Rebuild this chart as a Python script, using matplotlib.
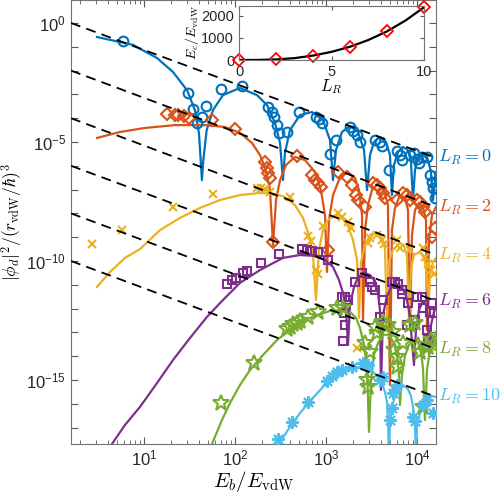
import numpy as np
import matplotlib
matplotlib.use("Agg")
import matplotlib.pyplot as plt
import matplotlib.transforms as mtransforms

plt.rcParams['font.family'] = ['Liberation Sans', 'DejaVu Sans']
plt.rcParams['mathtext.fontset'] = 'cm'

# values as log10(E_b/E_vdW) and log10(|phi_d|^2 ...)
# L_R = 0
l0_curve_x = [0.484, 0.879, 1.143, 1.319, 1.473, 1.560, 1.604, 1.637, 1.652, 1.689, 1.758, 1.868, 2.055,
              2.242, 2.352, 2.440, 2.495, 2.527, 2.549, 2.604, 2.714, 2.846, 2.967, 3.044, 3.077, 3.110,
              3.176, 3.264, 3.352, 3.418, 3.451, 3.484, 3.527, 3.593, 3.659, 3.703, 3.725, 3.747, 3.791,
              3.846, 3.901, 3.934, 3.956, 3.978, 4.011, 4.066, 4.121, 4.154, 4.176, 4.198, 4.209]
l0_curve_y = [-0.59, -0.92, -1.47, -2.06, -2.82, -3.66, -4.62, -6.60, -5.76, -4.50, -3.66, -3.03, -2.73,
              -3.03, -3.45, -4.20, -5.04, -6.60, -5.46, -4.50, -3.87, -3.74, -4.08, -4.92, -6.60, -5.34,
              -4.58, -4.33, -4.58, -5.34, -7.02, -5.55, -5.00, -4.79, -5.00, -5.55, -7.23, -5.97, -5.42,
              -5.21, -5.34, -5.84, -7.44, -6.18, -5.67, -5.50, -5.76, -6.26, -7.44, -6.60, -6.26]
l0_pts_x = [0.769, 1.484, 1.538, 1.582, 1.637, 1.681, 1.846, 2.077, 2.363, 2.407, 2.429, 2.462, 2.484,
            2.571, 2.703, 2.890, 2.923, 2.956, 3.044, 3.110, 3.264, 3.297, 3.341, 3.374, 3.538, 3.593,
            3.615, 3.692, 3.780, 3.813, 3.835, 3.923, 3.967, 4.000, 4.022, 4.055, 4.110, 4.143, 4.165,
            4.176, 4.198]
l0_pts_y = [-0.76, -2.94, -3.61, -4.20, -3.95, -3.49, -2.77, -2.65, -3.53, -3.74, -3.95, -4.29, -4.62,
            -4.58, -3.74, -3.95, -4.03, -4.20, -5.50, -4.92, -4.37, -4.54, -4.71, -5.00, -4.92, -5.00,
            -5.17, -6.18, -5.38, -5.55, -5.76, -5.55, -5.46, -5.71, -5.88, -5.63, -5.63, -6.39, -6.68,
            -6.93, -7.35]

# L_R = 2
l2_curve_x = [0.484, 0.736, 1.011, 1.341, 1.670, 1.890, 2.055, 2.187, 2.275, 2.341, 2.385, 2.418, 2.451,
              2.495, 2.560, 2.659, 2.769, 2.879, 2.945, 2.989, 3.011, 3.033, 3.077, 3.143, 3.231, 3.319,
              3.363, 3.396, 3.407, 3.429, 3.462, 3.505, 3.571, 3.637, 3.681, 3.703, 3.725, 3.758, 3.813,
              3.868, 3.901, 3.923, 3.945, 3.978, 4.022, 4.066, 4.099, 4.110, 4.132, 4.165, 4.209]
l2_curve_y = [-4.83, -4.58, -4.41, -4.29, -4.29, -4.37, -4.62, -5.04, -5.55, -6.18, -7.02, -9.33, -7.44,
              -6.60, -5.97, -5.63, -5.76, -6.26, -7.02, -8.07, -10.46, -8.28, -7.23, -6.60, -6.26, -6.51,
              -7.02, -8.07, -12.48, -8.70, -7.65, -7.02, -6.76, -7.02, -7.65, -15.21, -8.70, -7.77, -7.23,
              -7.35, -7.86, -12.90, -8.91, -7.86, -7.56, -7.73, -8.28, -12.90, -9.12, -8.07, -7.73]
l2_pts_x = [1.253, 1.341, 1.374, 1.440, 1.495, 1.747, 2.000, 2.330, 2.352, 2.363, 2.385, 2.418, 2.681,
            2.846, 2.879, 2.912, 2.945, 3.022, 3.132, 3.231, 3.286, 3.330, 3.352, 3.429, 3.516, 3.560,
            3.593, 3.626, 3.648, 3.780, 3.846, 3.890, 3.923, 4.000, 4.033, 4.066, 4.088, 4.165, 4.198]
l2_pts_y = [-3.82, -3.87, -3.87, -3.91, -3.99, -4.08, -4.45, -5.84, -6.09, -6.30, -6.51, -9.20, -5.59,
            -6.39, -6.60, -6.72, -6.89, -9.54, -6.26, -6.47, -6.81, -7.23, -7.44, -7.73, -6.72, -6.81,
            -6.93, -7.14, -7.35, -7.44, -7.14, -7.23, -7.44, -7.44, -7.52, -7.73, -7.94, -8.99, -8.61]

# L_R = 4
l4_curve_x = [0.484, 0.626, 0.791, 0.956, 1.176, 1.396, 1.615, 1.835, 2.055, 2.275, 2.440, 2.549, 2.659,
              2.747, 2.813, 2.857, 2.890, 2.923, 2.967, 3.022, 3.099, 3.176, 3.242, 3.297, 3.341, 3.363,
              3.385, 3.429, 3.484, 3.549, 3.604, 3.648, 3.670, 3.692, 3.736, 3.813, 3.857, 3.890, 3.912,
              3.934, 3.967, 4.033, 4.077, 4.110, 4.121, 4.143, 4.176, 4.209]
l4_curve_y = [-11.09, -10.46, -9.87, -9.50, -8.70, -8.19, -7.77, -7.44, -7.23, -7.14, -7.18, -7.31, -7.65,
              -8.19, -8.91, -9.75, -11.64, -9.54, -8.70, -8.28, -8.07, -8.19, -8.53, -9.12, -9.96, -12.39,
              -10.04, -9.33, -8.91, -8.78, -8.95, -9.45, -12.48, -10.04, -9.54, -9.24, -9.37, -9.79, -12.48,
              -10.29, -9.75, -9.62, -9.87, -10.46, -12.48, -10.59, -10.04, -9.87]
l4_pts_x = [0.429, 0.758, 1.319, 1.758, 2.242, 2.286, 2.330, 2.385, 2.604, 2.802, 2.835, 2.868, 2.890,
            2.912, 2.967, 3.132, 3.176, 3.242, 3.275, 3.341, 3.462, 3.484, 3.560, 3.615, 3.637, 3.780,
            3.813, 3.923, 4.066, 4.088, 4.121, 4.154, 4.187]
l4_pts_y = [-9.29, -8.70, -7.73, -7.18, -6.93, -6.93, -6.97, -7.10, -7.31, -8.95, -9.16, -9.62, -10.38,
            -10.55, -8.53, -7.98, -8.15, -8.36, -8.61, -13.66, -9.24, -9.03, -8.91, -9.12, -9.29, -9.12,
            -9.45, -9.54, -9.45, -9.83, -10.13, -10.38, -10.55]

# L_R = 6
l6_curve_x = [0.571, 0.648, 0.791, 0.956, 1.143, 1.319, 1.505, 1.692, 1.868, 2.055, 2.275, 2.527, 2.714,
              2.879, 2.989, 3.077, 3.143, 3.187, 3.220, 3.242, 3.264, 3.308, 3.352, 3.418, 3.484, 3.538,
              3.571, 3.593, 3.604, 3.626, 3.670, 3.714, 3.780, 3.835, 3.879, 3.912, 3.934, 3.967, 3.989,
              4.022, 4.066, 4.099, 4.121, 4.132, 4.154, 4.187, 4.209]
l6_curve_y = [-18.36, -17.69, -16.89, -16.13, -15.13, -14.16, -13.24, -12.35, -11.64, -10.92, -10.38, -9.87,
              -9.75, -9.79, -9.96, -10.25, -10.80, -11.34, -12.06, -13.53, -11.85, -11.09, -10.67, -10.50,
              -10.59, -10.84, -11.30, -12.06, -15.42, -12.27, -11.47, -11.13, -10.97, -11.09, -11.47, -12.06,
              -12.90, -14.37, -12.90, -12.06, -11.68, -11.85, -12.39, -13.95, -12.69, -12.14, -11.93]
l6_pts_x = [1.912, 1.967, 2.011, 2.088, 2.132, 2.286, 2.484, 2.736, 2.791, 2.846, 2.912, 3.022, 3.176,
            3.209, 3.242, 3.198, 3.209, 3.187, 3.319, 3.396, 3.484, 3.505, 3.538, 3.593, 3.626, 3.725,
            3.758, 3.791, 3.835, 3.835, 3.901, 3.890, 3.978, 4.000, 4.055, 4.066, 4.110, 4.121, 4.143,
            4.165, 4.187]
l6_pts_y = [-10.97, -10.80, -10.71, -10.50, -10.42, -10.08, -9.71, -9.50, -9.54, -9.58, -9.62, -9.96, -11.51,
            -11.51, -11.64, -12.18, -12.69, -13.36, -10.88, -10.50, -10.88, -11.09, -11.22, -12.35, -11.64,
            -10.88, -10.88, -10.97, -11.22, -11.39, -11.76, -12.69, -12.48, -11.51, -11.51, -11.97, -12.90,
            -13.32, -12.14, -11.76, -12.18]

# L_R = 8
l8_curve_x = [1.670, 1.747, 1.857, 1.945, 2.055, 2.165, 2.308, 2.462, 2.604, 2.747, 2.901, 3.044, 3.176,
              3.264, 3.330, 3.374, 3.418, 3.451, 3.473, 3.495, 3.527, 3.571, 3.626, 3.692, 3.747, 3.780,
              3.802, 3.813, 3.835, 3.868, 3.912, 3.967, 4.011, 4.044, 4.066, 4.088, 4.110, 4.143, 4.176,
              4.209]
l8_curve_y = [-18.36, -17.69, -16.68, -15.97, -15.21, -14.58, -13.95, -13.32, -12.90, -12.52, -12.27, -12.10,
              -12.06, -12.14, -12.39, -12.82, -13.53, -14.50, -17.18, -15.00, -13.95, -13.45, -13.10, -13.10,
              -13.45, -13.99, -14.79, -16.05, -14.79, -13.99, -13.53, -13.32, -13.40, -13.82, -14.50, -16.68,
              -14.58, -13.74, -13.24, -12.98]
l8_pts_x = [1.846, 2.209, 2.571, 2.604, 2.637, 2.681, 2.714, 2.802, 2.912, 3.121, 3.187, 3.429, 3.484,
            3.451, 3.462, 3.538, 3.560, 3.626, 3.681, 3.736, 3.747, 3.780, 3.780, 3.846, 3.923, 3.978,
            4.011, 4.033, 4.066, 4.121, 4.154, 4.176]
l8_pts_y = [-15.97, -14.29, -12.86, -12.77, -12.65, -12.61, -12.52, -12.35, -12.14, -11.97, -11.97, -13.45,
            -13.82, -15.00, -15.29, -12.77, -13.03, -12.56, -12.69, -12.98, -13.74, -14.03, -14.45, -13.45,
            -12.69, -12.61, -13.53, -13.82, -16.13, -13.61, -13.32, -13.53]

# L_R = 10
l10_curve_x = [2.451, 2.495, 2.604, 2.714, 2.846, 2.967, 3.077, 3.187, 3.286, 3.374, 3.451, 3.516, 3.571,
               3.615, 3.648, 3.670, 3.681, 3.692, 3.703, 3.714, 3.736, 3.769, 3.813, 3.857, 3.901, 3.934,
               3.956, 3.978, 3.989, 4.000, 4.033, 4.066, 4.110, 4.154, 4.209]
l10_curve_y = [-18.36, -17.61, -16.97, -16.39, -15.80, -15.29, -14.96, -14.71, -14.54, -14.50, -14.54, -14.66,
               -14.87, -15.13, -15.50, -15.92, -16.68, -18.36, -16.68, -16.34, -15.97, -15.59, -15.34, -15.25,
               -15.38, -15.67, -16.13, -16.89, -18.36, -16.89, -16.39, -16.01, -15.76, -15.67, -15.71]
l10_pts_x = [2.473, 2.626, 2.802, 3.011, 3.066, 3.121, 3.176, 3.286, 3.407, 3.462, 3.593, 3.626, 3.703,
             3.725, 3.736, 3.758, 3.780, 3.956, 3.978, 4.066, 4.110, 4.176]
l10_pts_y = [-17.48, -16.76, -15.92, -15.04, -14.83, -14.66, -14.58, -14.45, -14.29, -14.37, -15.00, -14.87,
             -16.68, -16.18, -15.55, -15.42, -15.21, -16.55, -16.72, -16.05, -15.84, -16.39]

# dashed guide lines (log10 values at the left and right ends)
guide_x = [0.198, 4.209]
guide_left = [0.0, -2.0, -4.0, -6.0, -8.0, -10.0]
guide_right = [-5.67, -7.73, -9.75, -11.68, -13.70, -15.71]

# inset: E_c / E_vdW against L_R
inset_L = [0, 2, 4, 6, 8, 10]
inset_Ec = [0, 25, 200, 600, 1300, 2390]
fit_L = [0, 1, 2, 3, 4, 5, 6, 7, 8, 9, 10]
fit_Ec = [0, 3, 25, 85, 200, 370, 600, 910, 1300, 1790, 2390]

labels = ['$L_R = 0$', '$L_R = 2$', '$L_R = 4$', '$L_R = 6$', '$L_R = 8$', '$L_R = 10$']
colors = ['#0072BD', '#D95319', '#EDB120', '#7E2F8E', '#77AC30', '#4DBEEE']
markers = ['o', 'D', 'x', 's', '*', (8, 2, 0)]
msizes = [7, 6, 6, 6, 12, 9]

curves = [(l0_curve_x, l0_curve_y), (l2_curve_x, l2_curve_y), (l4_curve_x, l4_curve_y),
          (l6_curve_x, l6_curve_y), (l8_curve_x, l8_curve_y), (l10_curve_x, l10_curve_y)]
points = [(l0_pts_x, l0_pts_y), (l2_pts_x, l2_pts_y), (l4_pts_x, l4_pts_y),
          (l6_pts_x, l6_pts_y), (l8_pts_x, l8_pts_y), (l10_pts_x, l10_pts_y)]

fig = plt.figure(figsize=(5.0, 4.98), dpi=100)
ax = fig.add_axes([0.142, 0.1084, 0.730, 0.8906])

for i in range(6):
    cx, cy = curves[i]
    px, py = points[i]
    ax.plot(10**np.array(cx), 10**np.array(cy), '-', color=colors[i], lw=1.6, zorder=2)
    ax.plot(10**np.array(px), 10**np.array(py), linestyle='none', marker=markers[i],
            markersize=msizes[i], markerfacecolor='none', markeredgecolor=colors[i],
            markeredgewidth=1.5, zorder=3)

for j in range(6):
    ax.plot(10**np.array(guide_x), 10**np.array([guide_left[j], guide_right[j]]),
            '--', color='black', lw=1.3, dashes=(5.5, 3.5), zorder=4)

ax.set_xscale('log')
ax.set_yscale('log')
ax.set_xlim(10**0.198, 10**4.209)
ax.set_ylim(10**-17.69, 10**0.945)

yt = [10.0**k for k in range(-17, 1)]
ax.set_yticks(yt)
ax.set_yticklabels([r'$\mathregular{10^{%d}}$' % k if k % 5 == 0 else '' for k in range(-17, 1)])
ax.set_yticks([], minor=True)
ax.set_xticks([10, 100, 1000, 10000])
ax.set_xticklabels([r'$\mathregular{10^{%d}}$' % k for k in range(1, 5)])
ax.xaxis.set_minor_locator(matplotlib.ticker.LogLocator(base=10, subs=np.arange(2, 10), numticks=20))
ax.xaxis.set_minor_formatter(matplotlib.ticker.NullFormatter())
ax.tick_params(which='both', direction='in', top=True, right=True, colors='0.35',
               labelcolor='0.15', labelsize=12)
ax.tick_params(which='major', length=5, width=0.8)
ax.tick_params(which='minor', length=3, width=0.6)
for s in ax.spines.values():
    s.set_color('0.45')
    s.set_linewidth(0.8)

ax.set_xlabel(r'$E_b/E_{\rm vdW}$', fontsize=15, labelpad=0)
ax.set_ylabel(r'$|\phi_d|^2/(r_{\rm vdW}/\hbar)^3$', fontsize=12.5)
ax.yaxis.set_label_coords(-0.125, 0.5)

trans = mtransforms.blended_transform_factory(ax.transAxes, ax.transData)
for i in range(6):
    ax.text(1.005, 10**guide_right[i], labels[i], transform=trans, color=colors[i],
            fontsize=13, va='center', ha='left')

ins = fig.add_axes([0.478, 0.8795, 0.370, 0.1085])
ins.plot(fit_L, fit_Ec, '-', color='black', lw=1.6)
ins.plot(inset_L, inset_Ec, linestyle='none', marker='D', markersize=6, markerfacecolor='none',
         markeredgecolor='red', markeredgewidth=1.3, clip_on=False)
ins.set_xlim(0, 10)
ins.set_ylim(0, 2450)
ins.set_xticks([0, 5, 10])
ins.set_yticks([0, 1000, 2000])
ins.tick_params(direction='in', top=True, right=True, length=3, colors='0.35',
                labelcolor='0.15', labelsize=10.5)
for s in ins.spines.values():
    s.set_color('0.45')
    s.set_linewidth(0.8)
ins.set_xlabel('$L_R$', fontsize=12, labelpad=-1)
ins.set_ylabel(r'$E_c/E_{\rm vdW}$', fontsize=10, labelpad=0)

fig.savefig('out.png', dpi=100)
